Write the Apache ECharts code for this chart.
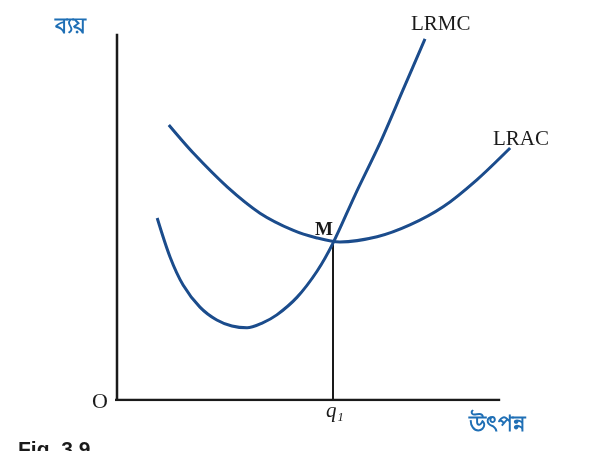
<!DOCTYPE html>
<html><head><meta charset="utf-8">
<script src="https://cdn.jsdelivr.net/npm/echarts@6/dist/echarts.min.js"></script>
<style>html,body{margin:0;padding:0;background:#fff}#c{width:609px;height:451px}</style>
</head><body><div id="c"></div>
<script>
const lracX = [12.0, 17.6, 25.5, 33.1, 40.7, 46.3, 51.6, 60.2, 67.8, 75.5, 83.3, 91.0];
const lracY = [74.3, 66.8, 57.6, 50.5, 45.9, 43.8, 42.7, 44.1, 47.3, 52.2, 59.5, 68.1];
const lrmcX = [9.3, 12.3, 15.3, 19.2, 23.1, 26.6, 30.1, 33.6, 37.0, 41.7, 46.3, 50.0, 55.1, 60.9, 66.2, 71.3];
const lrmcY = [49.2, 38.6, 31.1, 25.1, 21.6, 20.0, 19.5, 20.8, 23.0, 27.8, 34.8, 42.4, 55.4, 69.5, 83.8, 97.6];
const q1 = 50.0, mY = 42.8;
const xAxisEnd = 88.7, yAxisTop = 99;
const labels = {y: 'ব্যয়', x: 'উৎপন্ন', o: 'O', q: 'q₁', m: 'M', mc: 'LRMC', ac: 'LRAC', fig: 'Fig. 3.9'};

const zip = (a, b) => a.map((v, i) => [v, b[i]]);
const chart = echarts.init(document.getElementById('c'));
const blue = '#1b4c8c';
chart.setOption({
  animation: false,
  grid: {left: 117, right: 60, top: 30, bottom: 51},
  xAxis: {type: 'value', min: 0, max: 100, show: false},
  yAxis: {type: 'value', min: 0, max: 100, show: false},
  series: [
    {type: 'line', data: [[0, 0], [0, yAxisTop]], symbol: 'none', lineStyle: {color: '#1a1a1a', width: 2.5}},
    {type: 'line', data: [[-1, 0], [xAxisEnd, 0]], symbol: 'none', lineStyle: {color: '#1a1a1a', width: 2.5}},
    {type: 'line', data: [[q1, 0], [q1, mY]], symbol: 'none', lineStyle: {color: '#1a1a1a', width: 2}},
    {type: 'line', data: zip(lracX, lracY), smooth: 0.3, symbol: 'none', lineStyle: {color: blue, width: 3}},
    {type: 'line', data: zip(lrmcX, lrmcY), smooth: 0.3, symbol: 'none', lineStyle: {color: blue, width: 3}}
  ],
  graphic: [
    {type: 'text', left: 55, top: 16, style: {text: labels.y, fill: '#1f6fb5', font: 'bold 22px "Noto Sans", sans-serif'}},
    {type: 'text', left: 469, top: 414, style: {text: labels.x, fill: '#1f6fb5', font: 'bold 22px "Noto Sans", sans-serif'}},
    {type: 'text', left: 92, top: 391, style: {text: labels.o, fill: '#1a1a1a', font: '22px "Liberation Serif", serif'}},
    {type: 'text', left: 326, top: 401, style: {text: labels.q, fill: '#1a1a1a', font: 'italic 21px "Liberation Serif", serif'}},
    {type: 'text', left: 315, top: 221, style: {text: labels.m, fill: '#1a1a1a', font: 'bold 19px "Liberation Serif", serif'}},
    {type: 'text', left: 411, top: 14, style: {text: labels.mc, fill: '#1a1a1a', font: '21px "Liberation Serif", serif'}},
    {type: 'text', left: 493, top: 129, style: {text: labels.ac, fill: '#1a1a1a', font: '21px "Liberation Serif", serif'}},
    {type: 'text', left: 18, top: 440, style: {text: labels.fig, fill: '#1a1a1a', font: 'bold 21px "Liberation Sans", sans-serif'}}
  ]
});
</script></body></html>
